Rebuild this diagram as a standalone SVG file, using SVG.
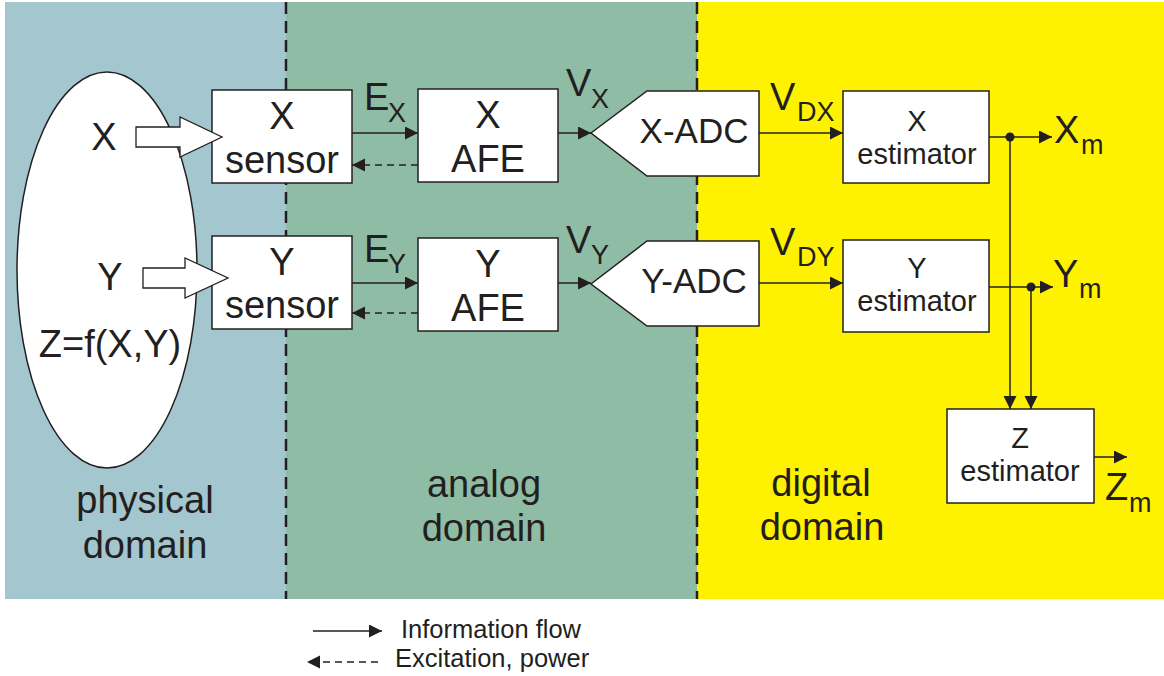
<svg xmlns="http://www.w3.org/2000/svg" width="1164" height="676" viewBox="0 0 1164 676">
<style>
text{font-family:"Liberation Sans",Arial,sans-serif;fill:#231f20}
.big{font-size:38px}
.mid{font-size:35px}
.sub{font-size:27px}
.est{font-size:29px}
.leg{font-size:25.5px}
.box{fill:#fff;stroke:#231f20;stroke-width:1.5}
.ln{fill:none;stroke:#231f20;stroke-width:1.5}
.dash{fill:none;stroke:#231f20;stroke-width:1.5;stroke-dasharray:7 5}
.div{fill:none;stroke:#231f20;stroke-width:2.5;stroke-dasharray:12 7}
</style>
<defs>
<marker id="ah" markerUnits="userSpaceOnUse" markerWidth="14" markerHeight="14" refX="13" refY="6.5" orient="auto">
<path d="M0,0 L13,6.5 L0,13 z" fill="#231f20"/>
</marker>
</defs>
<rect width="1164" height="676" fill="#fff"/>
<g id="domains">
<rect x="5" y="2" width="281" height="597" fill="#a3c6cf"/>
<rect x="286" y="2" width="411" height="597" fill="#8fbca5"/>
<rect x="697" y="2" width="467" height="597" fill="#fff200"/>
<line class="div" x1="286" y1="2" x2="286" y2="599"/>
<line class="div" x1="697" y1="2" x2="697" y2="599"/>
<text class="big" text-anchor="middle" x="145" y="513">physical</text>
<text class="big" text-anchor="middle" x="145" y="558">domain</text>
<text class="big" text-anchor="middle" x="484" y="497">analog</text>
<text class="big" text-anchor="middle" x="484" y="541">domain</text>
<text class="big" text-anchor="middle" x="821" y="496">digital</text>
<text class="big" text-anchor="middle" x="822" y="540">domain</text>
</g>
<g id="physical">
<ellipse cx="107" cy="270" rx="90" ry="198" fill="#fff" stroke="#231f20" stroke-width="1.5"/>
<text class="big" text-anchor="middle" x="104" y="150">X</text>
<text class="big" text-anchor="middle" x="110" y="290">Y</text>
<text class="big" text-anchor="middle" x="110" y="357">Z=f(X,Y)</text>
</g>
<g id="x-sensor">
<rect class="box" x="212" y="90" width="140" height="93"/>
<text class="big" text-anchor="middle" x="282" y="129">X</text>
<text class="big" text-anchor="middle" x="282" y="173">sensor</text>
</g>
<g id="y-sensor">
<rect class="box" x="212" y="236" width="140" height="93"/>
<text class="big" text-anchor="middle" x="282" y="275">Y</text>
<text class="big" text-anchor="middle" x="282" y="318">sensor</text>
</g>
<g id="x-afe">
<rect class="box" x="418" y="89" width="140" height="93"/>
<text class="big" text-anchor="middle" x="488" y="128">X</text>
<text class="big" text-anchor="middle" x="488" y="172">AFE</text>
</g>
<g id="y-afe">
<rect class="box" x="418" y="238" width="140" height="93"/>
<text class="big" text-anchor="middle" x="488" y="277">Y</text>
<text class="big" text-anchor="middle" x="488" y="321">AFE</text>
</g>
<g id="x-adc">
<polygon class="box" points="591,133 647,91 759,91 759,176 647,176"/>
<text class="mid" text-anchor="middle" x="694" y="143">X-ADC</text>
</g>
<g id="y-adc">
<polygon class="box" points="591,284 647,241 759,241 759,326 647,326"/>
<text class="mid" text-anchor="middle" x="694" y="293">Y-ADC</text>
</g>
<g id="x-estimator">
<rect class="box" x="843" y="91" width="146" height="92"/>
<text class="est" text-anchor="middle" x="917" y="131">X</text>
<text class="est" text-anchor="middle" x="917" y="164">estimator</text>
</g>
<g id="y-estimator">
<rect class="box" x="843" y="240" width="146" height="92"/>
<text class="est" text-anchor="middle" x="917" y="278">Y</text>
<text class="est" text-anchor="middle" x="917" y="311">estimator</text>
</g>
<g id="z-estimator">
<rect class="box" x="947" y="409" width="147" height="94"/>
<text class="est" text-anchor="middle" x="1020" y="448">Z</text>
<text class="est" text-anchor="middle" x="1020" y="481">estimator</text>
</g>
<g id="connectors">
<polygon points="136,127 180,127 180,117 222,137 180,157 180,147 136,147" fill="#fff" stroke="#231f20" stroke-width="1.3"/>
<polygon points="143,268 185,268 185,258 228,278 185,298 185,288 143,288" fill="#fff" stroke="#231f20" stroke-width="1.3"/>
<line class="ln" x1="352" y1="133" x2="418" y2="133" marker-end="url(#ah)"/>
<line class="dash" x1="418" y1="165" x2="352" y2="165" marker-end="url(#ah)"/>
<line class="ln" x1="352" y1="283" x2="418" y2="283" marker-end="url(#ah)"/>
<line class="dash" x1="418" y1="313" x2="352" y2="313" marker-end="url(#ah)"/>
<line class="ln" x1="558" y1="133" x2="591" y2="133" marker-end="url(#ah)"/>
<line class="ln" x1="558" y1="283" x2="591" y2="283" marker-end="url(#ah)"/>
<line class="ln" x1="759" y1="133" x2="843" y2="133" marker-end="url(#ah)"/>
<line class="ln" x1="759" y1="283" x2="843" y2="283" marker-end="url(#ah)"/>
<line class="ln" x1="989" y1="137" x2="1052" y2="137" marker-end="url(#ah)"/>
<line class="ln" x1="989" y1="287" x2="1053" y2="287" marker-end="url(#ah)"/>
<line class="ln" x1="1010" y1="137" x2="1010" y2="409" marker-end="url(#ah)"/>
<line class="ln" x1="1031" y1="287" x2="1031" y2="409" marker-end="url(#ah)"/>
<circle cx="1010" cy="137" r="4.5" fill="#231f20"/>
<circle cx="1031" cy="287" r="4.5" fill="#231f20"/>
<line class="ln" x1="1094" y1="457" x2="1127" y2="457" marker-end="url(#ah)"/>
</g>
<g id="labels">
<text class="big" x="364" y="110">E</text><text class="sub" x="388" y="122">X</text>
<text class="big" x="364" y="262">E</text><text class="sub" x="388" y="273">Y</text>
<text class="big" x="566" y="96">V</text><text class="sub" x="591" y="108">X</text>
<text class="big" x="566" y="253">V</text><text class="sub" x="591" y="264">Y</text>
<text class="big" x="770" y="110">V</text><text class="sub" x="797" y="121">DX</text>
<text class="big" x="770" y="255">V</text><text class="sub" x="797" y="266">DY</text>
<text class="big" x="1054" y="143">X</text><text class="sub" x="1081" y="154">m</text>
<text class="big" x="1053" y="287">Y</text><text class="sub" x="1079" y="298">m</text>
<text class="big" x="1105" y="500">Z</text><text class="sub" x="1129" y="512">m</text>
</g>
<g id="legend">
<line class="ln" x1="313" y1="631" x2="382" y2="631" marker-end="url(#ah)"/>
<line class="dash" x1="378" y1="662" x2="307" y2="662" marker-end="url(#ah)"/>
<text class="leg" x="401" y="638">Information flow</text>
<text class="leg" x="395" y="667">Excitation, power</text>
</g>
</svg>
